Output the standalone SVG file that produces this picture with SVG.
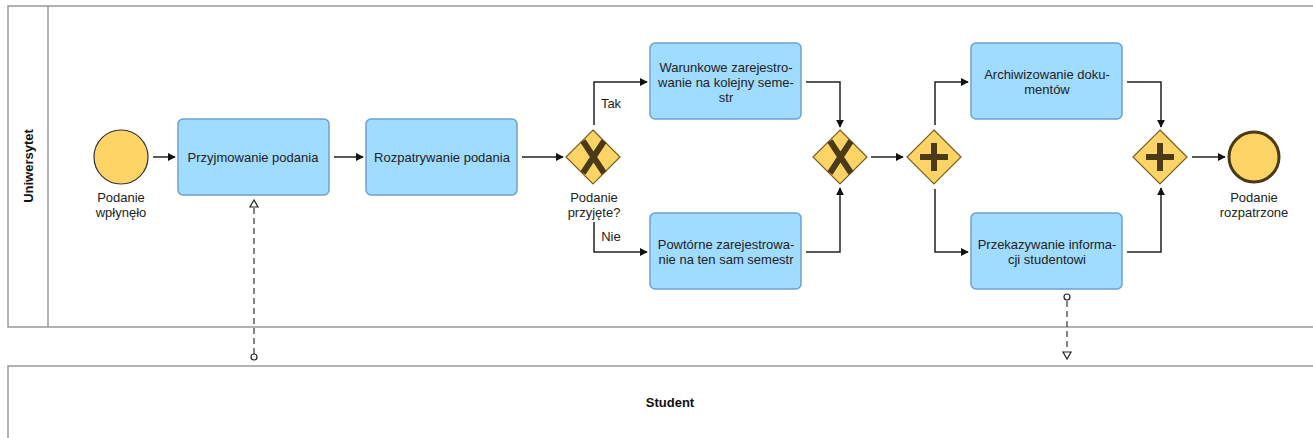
<svg xmlns="http://www.w3.org/2000/svg" width="1313" height="438" viewBox="0 0 1313 438">
<style>
.lane{fill:#fff;stroke:#999;stroke-width:1.5}
.task{fill:#a0dcff;stroke:#6f9fd2;stroke-width:1.5}
.gw{fill:#ffd466;stroke:#7a5c1f;stroke-width:1.2}
.mk{stroke:#4a3a15;stroke-width:6;fill:none}
.t{font-family:"Liberation Sans",Arial,sans-serif;font-size:13px;fill:#222;text-anchor:middle}
.b{font-family:"Liberation Sans",Arial,sans-serif;font-size:13px;font-weight:bold;fill:#111;text-anchor:middle}
.flow{stroke:#222;stroke-width:1.5;fill:none;marker-end:url(#arr)}
.msg{stroke:#333;stroke-width:1.2;fill:none;stroke-dasharray:6,4}
</style>
<defs>
<marker id="arr" viewBox="0 0 10 10" refX="9" refY="5" markerWidth="8" markerHeight="8" markerUnits="userSpaceOnUse" orient="auto"><path d="M0,0 L10,5 L0,10 z" fill="#111"/></marker>
</defs>
<g id="pool-uniwersytet">
<rect class="lane" x="8" y="6" width="1320" height="321"/>
<line x1="48" y1="6" x2="48" y2="327" stroke="#999" stroke-width="1.5"/>
<text class="b" transform="translate(33,166) rotate(-90)">Uniwersytet</text>
</g>
<g id="pool-student">
<rect class="lane" x="8" y="366" width="1320" height="80"/>
<text class="b" x="670" y="407">Student</text>
</g>
<g id="start">
<circle cx="121" cy="157" r="27" fill="#ffd466" stroke="#333" stroke-width="1.2"/>
<text class="t" x="121" y="202">Podanie</text>
<text class="t" x="121" y="217">wpłynęło</text>
</g>
<g id="task1"><rect class="task" x="178" y="119" width="151" height="76" rx="5"/><text class="t" x="253" y="162">Przyjmowanie podania</text></g>
<g id="task2"><rect class="task" x="366" y="119" width="151" height="76" rx="5"/><text class="t" x="442" y="162">Rozpatrywanie podania</text></g>
<g id="gw1">
<polygon class="gw" points="593,130 620,157 593,184 566,157"/>
<path class="mk" d="M583,141 L604,173 M604,141 L583,173"/>
<text class="t" x="594" y="202">Podanie</text>
<text class="t" x="594" y="217">przyjęte?</text>
</g>
<g id="task3"><rect class="task" x="650" y="43" width="151" height="76" rx="5"/>
<text class="t" x="726" y="72">Warunkowe zarejestro-</text><text class="t" x="726" y="87">wanie na kolejny seme-</text><text class="t" x="726" y="102">str</text></g>
<g id="task4"><rect class="task" x="650" y="213" width="151" height="76" rx="5"/>
<text class="t" x="726" y="249">Powtórne zarejestrowa-</text><text class="t" x="726" y="264">nie na ten sam semestr</text></g>
<g id="gw2">
<polygon class="gw" points="840,130 867,157 840,184 813,157"/>
<path class="mk" d="M830,141 L851,173 M851,141 L830,173"/>
</g>
<g id="gw3">
<polygon class="gw" points="934,130 961,157 934,184 907,157"/>
<path class="mk" d="M934,143 L934,171 M920,157 L948,157"/>
</g>
<g id="task5"><rect class="task" x="971" y="43" width="151" height="76" rx="5"/>
<text class="t" x="1047" y="79">Archiwizowanie doku-</text><text class="t" x="1047" y="94">mentów</text></g>
<g id="task6"><rect class="task" x="971" y="213" width="151" height="76" rx="5"/>
<text class="t" x="1047" y="249">Przekazywanie informa-</text><text class="t" x="1047" y="264">cji studentowi</text></g>
<g id="gw4">
<polygon class="gw" points="1160,130 1187,157 1160,184 1133,157"/>
<path class="mk" d="M1160,143 L1160,171 M1146,157 L1174,157"/>
</g>
<g id="end">
<circle cx="1254" cy="157" r="25" fill="#ffd466" stroke="#4a3a15" stroke-width="3"/>
<text class="t" x="1254" y="202">Podanie</text>
<text class="t" x="1254" y="217">rozpatrzone</text>
</g>
<g id="connectors">
<path class="flow" d="M153,157 H175"/>
<path class="flow" d="M334,157 H363"/>
<path class="flow" d="M522,157 H563"/>
<path class="flow" d="M594,125 V82 H647"/>
<path class="flow" d="M594,222 V252 H647"/>
<path class="flow" d="M806,82 H840 V127"/>
<path class="flow" d="M806,252 H840 V188"/>
<path class="flow" d="M871,157 H903"/>
<path class="flow" d="M935,125 V82 H968"/>
<path class="flow" d="M935,189 V252 H968"/>
<path class="flow" d="M1127,82 H1161 V127"/>
<path class="flow" d="M1127,252 H1161 V188"/>
<path class="flow" d="M1192,157 H1225"/>
<text class="t" x="611" y="108">Tak</text>
<text class="t" x="611" y="241">Nie</text>
<path class="msg" d="M254,354 V206"/>
<circle cx="254" cy="357" r="3" fill="#fff" stroke="#222" stroke-width="1.2"/>
<polygon points="254,200 250,207 258,207" fill="#fff" stroke="#222" stroke-width="1.2"/>
<path class="msg" d="M1067,301 V351"/>
<circle cx="1067" cy="297" r="3" fill="#fff" stroke="#222" stroke-width="1.2"/>
<polygon points="1067,359 1063,352 1071,352" fill="#fff" stroke="#222" stroke-width="1.2"/>
</g>
</svg>
